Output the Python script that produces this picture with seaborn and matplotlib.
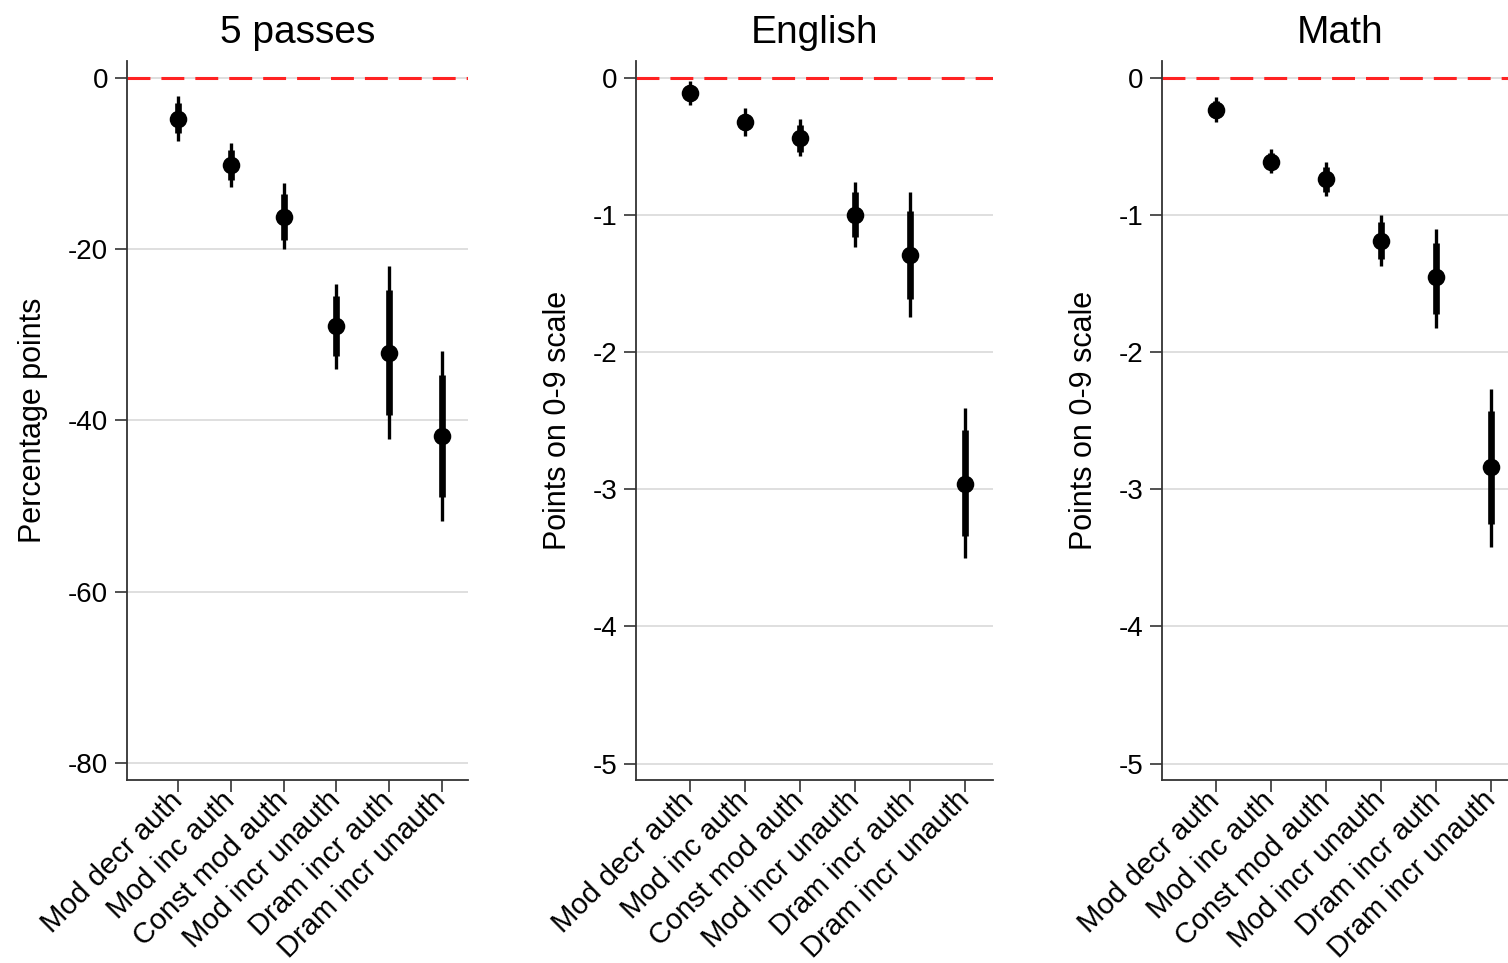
import numpy as np
import pandas as pd
import matplotlib
matplotlib.use("Agg")
import matplotlib.pyplot as plt
import seaborn as sns

# Categories (x axis)
cats = ["Mod decr auth", "Mod inc auth", "Const mod auth",
        "Mod incr unauth", "Dram incr auth", "Dram incr unauth"]

# 5 passes (percentage points)
passes_est = [-4.8, -10.2, -16.2, -29.0, -32.1, -41.8]
passes_lo95 = [-7.3, -12.7, -20.0, -34.0, -42.2, -51.7]
passes_hi95 = [-2.1, -7.6, -12.3, -24.1, -21.9, -31.9]
passes_lo90 = [-6.4, -11.9, -18.9, -32.5, -39.3, -48.9]
passes_hi90 = [-2.9, -8.4, -13.5, -25.5, -24.7, -34.7]

# English (points on 0-9 scale)
english_est = [-0.11, -0.32, -0.44, -1.00, -1.29, -2.96]
english_lo95 = [-0.20, -0.42, -0.57, -1.23, -1.74, -3.50]
english_hi95 = [-0.02, -0.22, -0.30, -0.76, -0.83, -2.41]
english_lo90 = [-0.17, -0.38, -0.54, -1.16, -1.61, -3.34]
english_hi90 = [-0.05, -0.26, -0.34, -0.83, -0.97, -2.57]

# Math (points on 0-9 scale)
math_est = [-0.23, -0.61, -0.74, -1.19, -1.45, -2.84]
math_lo95 = [-0.32, -0.69, -0.86, -1.37, -1.82, -3.42]
math_hi95 = [-0.14, -0.52, -0.61, -1.00, -1.10, -2.27]
math_lo90 = [-0.29, -0.66, -0.83, -1.32, -1.72, -3.25]
math_hi90 = [-0.17, -0.55, -0.65, -1.05, -1.20, -2.43]

titles = ["5 passes", "English", "Math"]
ylabels = ["Percentage points", "Points on 0-9 scale", "Points on 0-9 scale"]
yticks_list = [[0, -20, -40, -60, -80], [0, -1, -2, -3, -4, -5], [0, -1, -2, -3, -4, -5]]
ylims = [(-82, 2), (-5.12, 0.124), (-5.12, 0.124)]

sns.set_theme(style="white")
plt.rcParams['font.family'] = ['Liberation Sans', 'DejaVu Sans']
plt.rcParams['text.color'] = 'black'
plt.rcParams['axes.labelcolor'] = 'black'
plt.rcParams['xtick.color'] = 'black'
plt.rcParams['ytick.color'] = 'black'

W, H = 1508, 963
fig = plt.figure(figsize=(W / 100, H / 100), dpi=100)

# axes boxes in pixels: left, right
boxes = [(127, 468), (636, 993), (1162, 1519)]
top_px, bot_px = 61, 780
label_x = [-0.232, -0.176, -0.176]

panels = [
    (passes_est, passes_lo95, passes_hi95, passes_lo90, passes_hi90),
    (english_est, english_lo95, english_hi95, english_lo90, english_hi90),
    (math_est, math_lo95, math_hi95, math_lo90, math_hi90),
]

for i, (est, lo95, hi95, lo90, hi90) in enumerate(panels):
    l, r = boxes[i]
    ax = fig.add_axes([l / W, (H - bot_px) / H, (r - l) / W, (bot_px - top_px) / H])
    df = pd.DataFrame({"pos": np.arange(1, 7), "est": est, "lo95": lo95,
                       "hi95": hi95, "lo90": lo90, "hi90": hi90})

    # gridlines
    for t in yticks_list[i]:
        ax.axhline(t, color="#d9d9d9", lw=1.2, zorder=0)
    ax.axhline(0, color="#ff2222", lw=2.2, ls=(0, (7.5, 3.6)), zorder=1)

    ax.vlines(df["pos"], df["lo95"], df["hi95"], color="black", lw=2.4, zorder=2)
    ax.vlines(df["pos"], df["lo90"], df["hi90"], color="black", lw=4.8, zorder=2)
    sns.scatterplot(data=df, x="pos", y="est", ax=ax, color="black", s=160,
                    edgecolor="black", linewidth=0, zorder=3, legend=False)

    ax.set_xlim(0.03, 6.5)
    ax.set_ylim(*ylims[i])
    ax.set_yticks(yticks_list[i])
    ax.set_yticklabels([str(t) for t in yticks_list[i]], fontsize=20)
    ax.set_xticks(df["pos"])
    ax.set_xticklabels(cats, fontsize=21, rotation=45, ha="right", va="center",
                       rotation_mode="anchor")
    ax.tick_params(axis="both", direction="out", length=8.5, width=1.2,
                   color="#333333", pad=5, bottom=True, left=True)
    ax.tick_params(axis="x", pad=3)

    for side in ["top", "right"]:
        ax.spines[side].set_visible(False)
    for side in ["left", "bottom"]:
        ax.spines[side].set_color("#333333")
        ax.spines[side].set_linewidth(1.3)

    ax.set_xlabel("")
    ax.set_ylabel(ylabels[i], fontsize=22)
    ax.yaxis.set_label_coords(label_x[i], 0.5)
    ax.set_title(titles[i], fontsize=28, pad=13)

fig.savefig("out.png", dpi=100, facecolor="white")
